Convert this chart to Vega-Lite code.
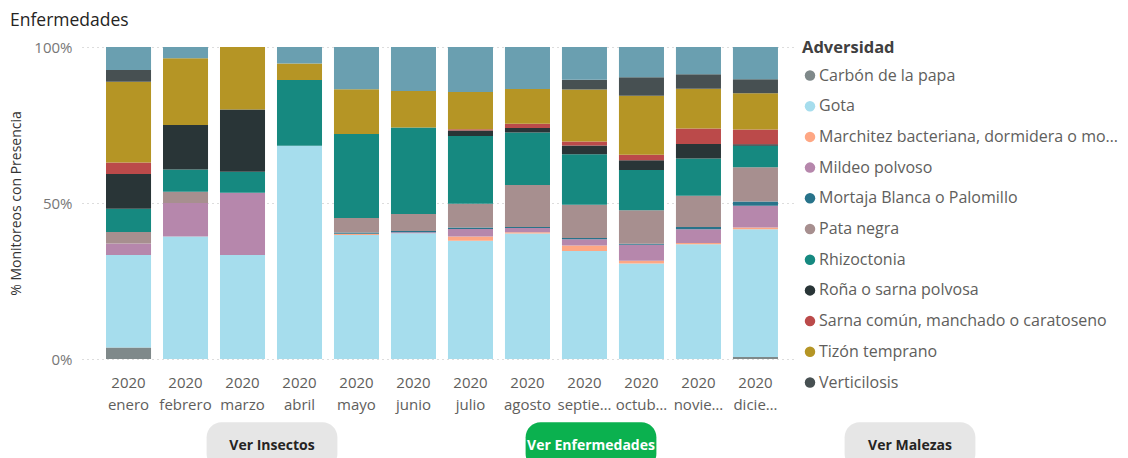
{
  "$schema": "https://vega.github.io/schema/vega-lite/v6.json",
  "width": 713,
  "height": 312,
  "autosize": {"type": "none"},
  "padding": {"left": 82, "top": 47, "right": 333, "bottom": 99},
  "background": "white",
  "config": {"font": "Open Sans", "view": {"stroke": null}},
  "title": {"text": "Enfermedades", "anchor": "start", "frame": "group", "dx": -72, "offset": 11, "fontSize": 17.5, "fontWeight": "normal", "color": "#252423", "font": "Open Sans"},
  "layer": [
    {
      "data": {"values": [
        {"mes": "enero", "adversidad": "Carbón de la papa", "pct": 3.7},
        {"mes": "enero", "adversidad": "Gota", "pct": 29.6},
        {"mes": "enero", "adversidad": "Mildeo polvoso", "pct": 3.7},
        {"mes": "enero", "adversidad": "Pata negra", "pct": 3.7},
        {"mes": "enero", "adversidad": "Rhizoctonia", "pct": 7.4},
        {"mes": "enero", "adversidad": "Roña o sarna polvosa", "pct": 11.1},
        {"mes": "enero", "adversidad": "Sarna común, manchado o caratoseno", "pct": 3.7},
        {"mes": "enero", "adversidad": "Tizón temprano", "pct": 25.9},
        {"mes": "enero", "adversidad": "Verticilosis", "pct": 3.7},
        {"mes": "enero", "adversidad": "Virosis", "pct": 7.4},

        {"mes": "febrero", "adversidad": "Gota", "pct": 39.3},
        {"mes": "febrero", "adversidad": "Mildeo polvoso", "pct": 10.7},
        {"mes": "febrero", "adversidad": "Pata negra", "pct": 3.6},
        {"mes": "febrero", "adversidad": "Rhizoctonia", "pct": 7.1},
        {"mes": "febrero", "adversidad": "Roña o sarna polvosa", "pct": 14.3},
        {"mes": "febrero", "adversidad": "Tizón temprano", "pct": 21.4},
        {"mes": "febrero", "adversidad": "Virosis", "pct": 3.6},

        {"mes": "marzo", "adversidad": "Gota", "pct": 33.3},
        {"mes": "marzo", "adversidad": "Mildeo polvoso", "pct": 20.0},
        {"mes": "marzo", "adversidad": "Rhizoctonia", "pct": 6.7},
        {"mes": "marzo", "adversidad": "Roña o sarna polvosa", "pct": 20.0},
        {"mes": "marzo", "adversidad": "Tizón temprano", "pct": 20.0},

        {"mes": "abril", "adversidad": "Gota", "pct": 68.4},
        {"mes": "abril", "adversidad": "Rhizoctonia", "pct": 21.1},
        {"mes": "abril", "adversidad": "Tizón temprano", "pct": 5.3},
        {"mes": "abril", "adversidad": "Virosis", "pct": 5.3},

        {"mes": "mayo", "adversidad": "Gota", "pct": 39.7},
        {"mes": "mayo", "adversidad": "Marchitez bacteriana, dormidera o moko", "pct": 0.4},
        {"mes": "mayo", "adversidad": "Mortaja Blanca o Palomillo", "pct": 0.4},
        {"mes": "mayo", "adversidad": "Pata negra", "pct": 4.6},
        {"mes": "mayo", "adversidad": "Rhizoctonia", "pct": 26.9},
        {"mes": "mayo", "adversidad": "Tizón temprano", "pct": 14.3},
        {"mes": "mayo", "adversidad": "Virosis", "pct": 13.5},

        {"mes": "junio", "adversidad": "Gota", "pct": 40.3},
        {"mes": "junio", "adversidad": "Mildeo polvoso", "pct": 0.3},
        {"mes": "junio", "adversidad": "Mortaja Blanca o Palomillo", "pct": 0.4},
        {"mes": "junio", "adversidad": "Pata negra", "pct": 5.5},
        {"mes": "junio", "adversidad": "Rhizoctonia", "pct": 27.7},
        {"mes": "junio", "adversidad": "Tizón temprano", "pct": 11.7},
        {"mes": "junio", "adversidad": "Virosis", "pct": 14.1},

        {"mes": "julio", "adversidad": "Gota", "pct": 37.9},
        {"mes": "julio", "adversidad": "Marchitez bacteriana, dormidera o moko", "pct": 1.3},
        {"mes": "julio", "adversidad": "Mildeo polvoso", "pct": 2.4},
        {"mes": "julio", "adversidad": "Mortaja Blanca o Palomillo", "pct": 0.5},
        {"mes": "julio", "adversidad": "Pata negra", "pct": 7.6},
        {"mes": "julio", "adversidad": "Rhizoctonia", "pct": 21.7},
        {"mes": "julio", "adversidad": "Roña o sarna polvosa", "pct": 1.8},
        {"mes": "julio", "adversidad": "Sarna común, manchado o caratoseno", "pct": 0.4},
        {"mes": "julio", "adversidad": "Tizón temprano", "pct": 11.9},
        {"mes": "julio", "adversidad": "Virosis", "pct": 14.4},

        {"mes": "agosto", "adversidad": "Gota", "pct": 40.2},
        {"mes": "agosto", "adversidad": "Marchitez bacteriana, dormidera o moko", "pct": 0.4},
        {"mes": "agosto", "adversidad": "Mildeo polvoso", "pct": 1.4},
        {"mes": "agosto", "adversidad": "Mortaja Blanca o Palomillo", "pct": 0.3},
        {"mes": "agosto", "adversidad": "Pata negra", "pct": 13.5},
        {"mes": "agosto", "adversidad": "Rhizoctonia", "pct": 16.8},
        {"mes": "agosto", "adversidad": "Roña o sarna polvosa", "pct": 1.4},
        {"mes": "agosto", "adversidad": "Sarna común, manchado o caratoseno", "pct": 1.4},
        {"mes": "agosto", "adversidad": "Tizón temprano", "pct": 11.1},
        {"mes": "agosto", "adversidad": "Virosis", "pct": 13.5},

        {"mes": "septiembre", "adversidad": "Gota", "pct": 34.6},
        {"mes": "septiembre", "adversidad": "Marchitez bacteriana, dormidera o moko", "pct": 1.8},
        {"mes": "septiembre", "adversidad": "Mildeo polvoso", "pct": 2.0},
        {"mes": "septiembre", "adversidad": "Mortaja Blanca o Palomillo", "pct": 0.4},
        {"mes": "septiembre", "adversidad": "Pata negra", "pct": 10.6},
        {"mes": "septiembre", "adversidad": "Rhizoctonia", "pct": 16.2},
        {"mes": "septiembre", "adversidad": "Roña o sarna polvosa", "pct": 2.8},
        {"mes": "septiembre", "adversidad": "Sarna común, manchado o caratoseno", "pct": 1.3},
        {"mes": "septiembre", "adversidad": "Tizón temprano", "pct": 16.7},
        {"mes": "septiembre", "adversidad": "Verticilosis", "pct": 3.1},
        {"mes": "septiembre", "adversidad": "Virosis", "pct": 10.5},

        {"mes": "octubre", "adversidad": "Gota", "pct": 30.6},
        {"mes": "octubre", "adversidad": "Marchitez bacteriana, dormidera o moko", "pct": 0.9},
        {"mes": "octubre", "adversidad": "Mildeo polvoso", "pct": 5.1},
        {"mes": "octubre", "adversidad": "Mortaja Blanca o Palomillo", "pct": 0.3},
        {"mes": "octubre", "adversidad": "Pata negra", "pct": 10.8},
        {"mes": "octubre", "adversidad": "Rhizoctonia", "pct": 12.9},
        {"mes": "octubre", "adversidad": "Roña o sarna polvosa", "pct": 3.1},
        {"mes": "octubre", "adversidad": "Sarna común, manchado o caratoseno", "pct": 1.8},
        {"mes": "octubre", "adversidad": "Tizón temprano", "pct": 18.9},
        {"mes": "octubre", "adversidad": "Verticilosis", "pct": 5.9},
        {"mes": "octubre", "adversidad": "Virosis", "pct": 9.7},

        {"mes": "noviembre", "adversidad": "Gota", "pct": 36.8},
        {"mes": "noviembre", "adversidad": "Marchitez bacteriana, dormidera o moko", "pct": 0.4},
        {"mes": "noviembre", "adversidad": "Mildeo polvoso", "pct": 4.4},
        {"mes": "noviembre", "adversidad": "Mortaja Blanca o Palomillo", "pct": 0.7},
        {"mes": "noviembre", "adversidad": "Pata negra", "pct": 10.0},
        {"mes": "noviembre", "adversidad": "Rhizoctonia", "pct": 12.0},
        {"mes": "noviembre", "adversidad": "Roña o sarna polvosa", "pct": 4.6},
        {"mes": "noviembre", "adversidad": "Sarna común, manchado o caratoseno", "pct": 5.0},
        {"mes": "noviembre", "adversidad": "Tizón temprano", "pct": 12.7},
        {"mes": "noviembre", "adversidad": "Verticilosis", "pct": 4.7},
        {"mes": "noviembre", "adversidad": "Virosis", "pct": 8.7},

        {"mes": "diciembre", "adversidad": "Carbón de la papa", "pct": 0.6},
        {"mes": "diciembre", "adversidad": "Gota", "pct": 40.9},
        {"mes": "diciembre", "adversidad": "Marchitez bacteriana, dormidera o moko", "pct": 0.6},
        {"mes": "diciembre", "adversidad": "Mildeo polvoso", "pct": 6.9},
        {"mes": "diciembre", "adversidad": "Mortaja Blanca o Palomillo", "pct": 1.4},
        {"mes": "diciembre", "adversidad": "Pata negra", "pct": 10.9},
        {"mes": "diciembre", "adversidad": "Rhizoctonia", "pct": 6.9},
        {"mes": "diciembre", "adversidad": "Roña o sarna polvosa", "pct": 0.5},
        {"mes": "diciembre", "adversidad": "Sarna común, manchado o caratoseno", "pct": 4.7},
        {"mes": "diciembre", "adversidad": "Tizón temprano", "pct": 11.6},
        {"mes": "diciembre", "adversidad": "Verticilosis", "pct": 4.5},
        {"mes": "diciembre", "adversidad": "Virosis", "pct": 10.3}
      ]},
      "mark": {"type": "bar"},
      "encoding": {
        "x": {
          "field": "mes", "type": "nominal",
          "sort": ["enero", "febrero", "marzo", "abril", "mayo", "junio", "julio", "agosto", "septiembre", "octubre", "noviembre", "diciembre"],
          "scale": {"paddingInner": 0.21, "paddingOuter": 0.36, "align": 0.585},
          "axis": {"title": null, "labelExpr": "['2020', datum.label]", "labelAngle": 0, "labelFontSize": 15, "labelColor": "#605E5C", "labelLimit": 54, "labelPadding": 16, "labelLineHeight": 22, "ticks": false, "domain": false}
        },
        "y": {
          "field": "pct", "type": "quantitative", "stack": "normalize",
          "axis": {"title": "% Monitoreos con Presencia", "values": [0, 0.5, 1], "format": ".0%", "labelFontSize": 15, "labelColor": "#777777", "labelPadding": 10, "titleFontSize": 14, "titleFontWeight": "normal", "titleColor": "#333333", "titlePadding": 10, "domain": false, "ticks": false, "grid": true, "gridDash": [1, 4], "gridColor": "#bbbbbb"}
        },
        "order": {"field": "adversidad", "type": "nominal", "sort": "ascending"},
        "color": {
          "field": "adversidad", "type": "nominal",
          "scale": {
            "domain": ["Carbón de la papa", "Gota", "Marchitez bacteriana, dormidera o moko", "Mildeo polvoso", "Mortaja Blanca o Palomillo", "Pata negra", "Rhizoctonia", "Roña o sarna polvosa", "Sarna común, manchado o caratoseno", "Tizón temprano", "Verticilosis", "Virosis"],
            "range": ["#7F898A", "#A6DDED", "#FEA784", "#B687AC", "#28738A", "#A78F8F", "#168980", "#293537", "#BB4A4A", "#B59525", "#475052", "#6A9FB0"]
          },
          "legend": {
            "orient": "none", "legendX": 720, "legendY": -7,
            "title": "Adversidad", "titleFontSize": 16.5, "titleFontWeight": "bold", "titleColor": "#404040", "titlePadding": 11,
            "labelFontSize": 16, "labelColor": "#605E5C", "labelLimit": 302, "labelOffset": 1,
            "symbolType": "circle", "symbolSize": 110, "symbolStrokeWidth": 0, "rowPadding": 14.7,
            "values": ["Carbón de la papa", "Gota", "Marchitez bacteriana, dormidera o moko", "Mildeo polvoso", "Mortaja Blanca o Palomillo", "Pata negra", "Rhizoctonia", "Roña o sarna polvosa", "Sarna común, manchado o caratoseno", "Tizón temprano", "Verticilosis"]
          }
        }
      }
    },
    {
      "data": {"values": [
        {"boton": "Ver Insectos", "activo": false},
        {"boton": "Ver Enfermedades", "activo": true},
        {"boton": "Ver Malezas", "activo": false}
      ]},
      "encoding": {
        "x": {"field": "boton", "type": "nominal", "sort": null, "scale": {"type": "band", "range": [30.5, 987.5], "paddingInner": 0.59, "paddingOuter": 0.295}, "axis": null},
        "y": {"datum": "botones", "type": "nominal", "scale": {"type": "band", "range": [383, 414], "paddingInner": 0, "paddingOuter": 0}, "axis": null}
      },
      "layer": [
        {"mark": {"type": "bar", "cornerRadius": 15, "height": {"band": 1.5}},
         "encoding": {"fill": {"condition": {"test": "datum.activo", "value": "#0BB14F"}, "value": "#E6E6E6"}}},
        {"mark": {"type": "text", "fontSize": 14, "fontWeight": "bold", "font": "Open Sans"},
         "encoding": {"text": {"field": "boton"}, "color": {"condition": {"test": "datum.activo", "value": "#ffffff"}, "value": "#252423"}}}
      ]
    }
  ],
  "resolve": {"scale": {"x": "independent", "y": "independent"}}
}
